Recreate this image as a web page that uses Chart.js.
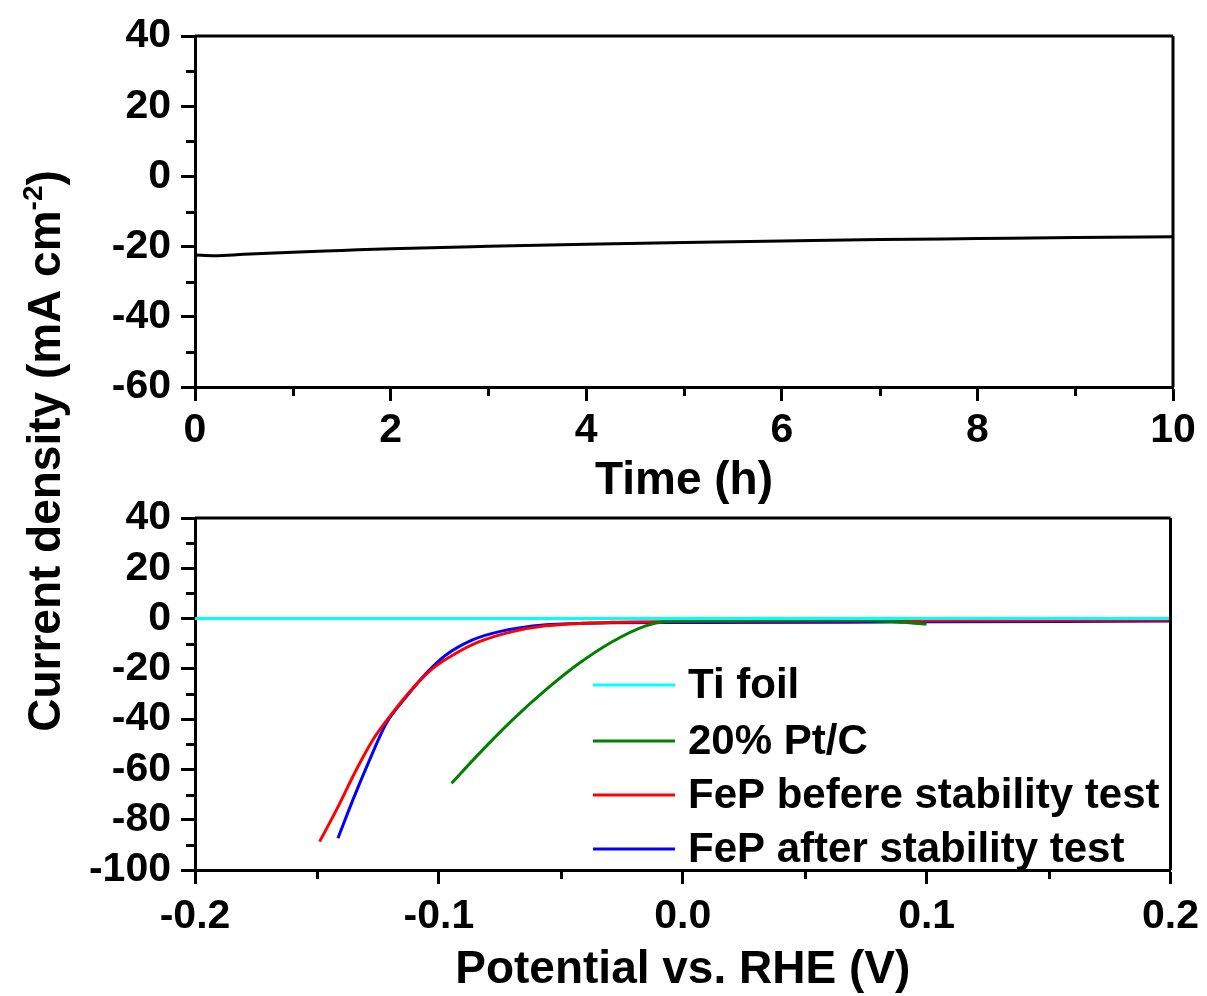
<!DOCTYPE html>
<html>
<head>
<meta charset="utf-8">
<script src="https://cdn.jsdelivr.net/npm/chart.js@4.4.1/dist/chart.umd.min.js"></script>
<style>
  body { margin: 0; background: #fff; }
  #wrap { position: relative; width: 1207px; height: 996px; overflow: hidden; }
  canvas { position: absolute; left: 0; }
  #c1 { top: 0; }
  #c2 { top: 470px; }
</style>
</head>
<body>
<div id="wrap">
  <canvas id="c1" width="1207" height="996"></canvas>
  <canvas id="c2" width="1207" height="526"></canvas>
</div>
<script>
// top panel: stability test, current vs time
var timeH = [0, 0.2, 0.5, 1, 1.5, 2, 3, 4, 5, 6, 7, 8, 9, 10];
var curTime = [-22.4, -22.6, -22.2, -21.6, -21.1, -20.6, -19.9, -19.3, -18.8, -18.4, -18.0, -17.7, -17.4, -17.2];

// bottom panel: polarization curves
var potTi = [-0.2, 0.2];
var curTi = [0, 0];
var potPt = [-0.0948, -0.0834, -0.0698, -0.0562, -0.0425, -0.0289, -0.0152, -0.0071, 0.0, 0.03, 0.05, 0.07, 0.085, 0.1];
var curPt = [-65.5, -53.6, -40.3, -28.4, -17.8, -9.2, -2.9, -1.2, -1.0, -0.8, -0.7, -0.6, -1.2, -2.2];
var potBefore = [-0.1489, -0.142, -0.1339, -0.1271, -0.1202, -0.1107, -0.1025, -0.093, -0.0834, -0.0698, -0.0562, -0.0289, 0.0065, 0.1, 0.2];
var curBefore = [-88.7, -76.1, -60.2, -48.3, -39.0, -27.7, -19.8, -13.8, -9.2, -5.2, -2.9, -1.5, -1.1, -0.8, -0.6];
var potAfter = [-0.1414, -0.1353, -0.1284, -0.1216, -0.1134, -0.1052, -0.0971, -0.0862, -0.0752, -0.0562, -0.0289, 0.0065, 0.1, 0.2];
var curAfter = [-87.4, -72.2, -56.2, -41.7, -31.1, -21.8, -14.5, -8.5, -5.2, -2.5, -1.7, -1.6, -1.3, -1.0];

var seriesNames = ['Ti foil', '20% Pt/C', 'FeP befere stability test', 'FeP after stability test'];
var seriesColors = ['#00ffff', '#008000', '#ff0000', '#0000ff'];

var FONT = '"Liberation Sans", Arial, sans-serif';

function pts(xs, ys) {
  return xs.map(function (x, i) { return { x: x, y: ys[i] }; });
}

// box frame + minor ticks (outward)
var framePlugin = {
  id: 'frame',
  afterDraw: function (chart) {
    var ctx = chart.ctx, a = chart.chartArea;
    ctx.save();
    ctx.strokeStyle = '#000';
    ctx.lineWidth = 3;
    ctx.beginPath();
    ctx.moveTo(a.left, a.top); ctx.lineTo(a.right, a.top);
    ctx.moveTo(a.right, a.top); ctx.lineTo(a.right, a.bottom);
    ctx.stroke();
    var xs = chart.scales.x, ys = chart.scales.y;
    ctx.beginPath();
    for (var i = 0; i < xs.ticks.length - 1; i++) {
      var m = (xs.ticks[i].value + xs.ticks[i + 1].value) / 2;
      var px = Math.round(xs.getPixelForValue(m)) + 0.5;
      ctx.moveTo(px, a.bottom); ctx.lineTo(px, a.bottom + 9);
    }
    for (var j = 0; j < ys.ticks.length - 1; j++) {
      var n = (ys.ticks[j].value + ys.ticks[j + 1].value) / 2;
      var py = Math.round(ys.getPixelForValue(n)) + 0.5;
      ctx.moveTo(a.left, py); ctx.lineTo(a.left - 9, py);
    }
    ctx.stroke();
    ctx.restore();
  }
};

// shared y-axis title with superscript
var yTitlePlugin = {
  id: 'ytitle',
  afterDraw: function (chart) {
    var ctx = chart.ctx;
    var main = 'Current density (mA cm';
    var sup = '-2';
    var tail = ')';
    ctx.save();
    ctx.translate(60, 451);
    ctx.rotate(-Math.PI / 2);
    ctx.fillStyle = '#000';
    ctx.textBaseline = 'alphabetic';
    ctx.font = 'bold 46px ' + FONT;
    var w1 = ctx.measureText(main).width;
    var w3 = ctx.measureText(tail).width;
    ctx.font = 'bold 28px ' + FONT;
    var w2 = ctx.measureText(sup).width;
    var x0 = -(w1 + w2 + w3) / 2;
    ctx.font = 'bold 46px ' + FONT;
    ctx.fillText(main, x0, 0);
    ctx.font = 'bold 28px ' + FONT;
    ctx.fillText(sup, x0 + w1, -18);
    ctx.font = 'bold 46px ' + FONT;
    ctx.fillText(tail, x0 + w1 + w2, 0);
    ctx.restore();
  }
};

// legend inside the bottom panel
var legendPlugin = {
  id: 'inlegend',
  afterDraw: function (chart) {
    var ctx = chart.ctx;
    var rows = [215, 271, 325, 379];
    ctx.save();
    chart.data.datasets.forEach(function (ds, i) {
      ctx.strokeStyle = ds.borderColor;
      ctx.lineWidth = 3;
      ctx.beginPath();
      ctx.moveTo(593, rows[i]); ctx.lineTo(675, rows[i]);
      ctx.stroke();
      ctx.fillStyle = '#000';
      ctx.font = 'bold 42px ' + FONT;
      ctx.textBaseline = 'middle';
      ctx.fillText(ds.label, 688, rows[i] + 1);
    });
    ctx.restore();
  }
};

function axisX(min, max, step, title, tickPad, height, titlePad, lineH, fmt) {
  return {
    type: 'linear', min: min, max: max,
    ticks: {
      stepSize: step, color: '#000', padding: tickPad, maxRotation: 0, autoSkip: false,
      font: { family: FONT, size: 41, weight: 'bold' },
      callback: fmt
    },
    grid: { drawOnChartArea: false, tickLength: 14, tickWidth: 3, tickColor: '#000' },
    border: { color: '#000', width: 3 },
    title: {
      display: true, text: title, color: '#000',
      font: { family: FONT, size: 46, weight: 'bold', lineHeight: lineH },
      padding: { top: 0, bottom: titlePad }
    },
    afterFit: function (s) { s.height = height; }
  };
}

function axisY(min, max) {
  return {
    type: 'linear', min: min, max: max,
    ticks: {
      stepSize: 20, color: '#000', padding: 10, autoSkip: false,
      font: { family: FONT, size: 41, weight: 'bold' }
    },
    grid: { drawOnChartArea: false, tickLength: 14, tickWidth: 3, tickColor: '#000' },
    border: { color: '#000', width: 3 },
    afterFit: function (s) { s.width = 195; }
  };
}

var common = {
  responsive: false,
  animation: false,
  devicePixelRatio: 1,
  plugins: { legend: { display: false }, tooltip: { enabled: false } },
  elements: { point: { radius: 0 }, line: { borderWidth: 3, cubicInterpolationMode: 'monotone' } }
};

new Chart(document.getElementById('c1'), {
  type: 'line',
  data: {
    datasets: [{
      label: 'stability',
      data: pts(timeH, curTime),
      borderColor: '#000',
      borderWidth: 3
    }]
  },
  options: Object.assign({}, common, {
    layout: { padding: { left: 0, right: 34, top: 36, bottom: 487 } },
    scales: {
      x: axisX(0, 10, 2, 'Time (h)', 5, 122, 0, 1.2, function (v) { return v; }),
      y: axisY(-60, 40)
    }
  }),
  plugins: [framePlugin, yTitlePlugin]
});

new Chart(document.getElementById('c2'), {
  type: 'line',
  data: {
    datasets: [
      { label: seriesNames[0], data: pts(potTi, curTi), borderColor: seriesColors[0] },
      { label: seriesNames[1], data: pts(potPt, curPt), borderColor: seriesColors[1] },
      { label: seriesNames[2], data: pts(potBefore, curBefore), borderColor: seriesColors[2] },
      { label: seriesNames[3], data: pts(potAfter, curAfter), borderColor: seriesColors[3] }
    ]
  },
  options: Object.assign({}, common, {
    layout: { padding: { left: 0, right: 34, top: 48, bottom: 3 } },
    scales: {
      x: axisX(-0.2, 0.2, 0.1, 'Potential vs. RHE (V)', 8, 123, 0, 1, function (v) { return Number(v).toFixed(1); }),
      y: axisY(-100, 40)
    }
  }),
  plugins: [framePlugin, legendPlugin]
});
</script>
</body>
</html>
